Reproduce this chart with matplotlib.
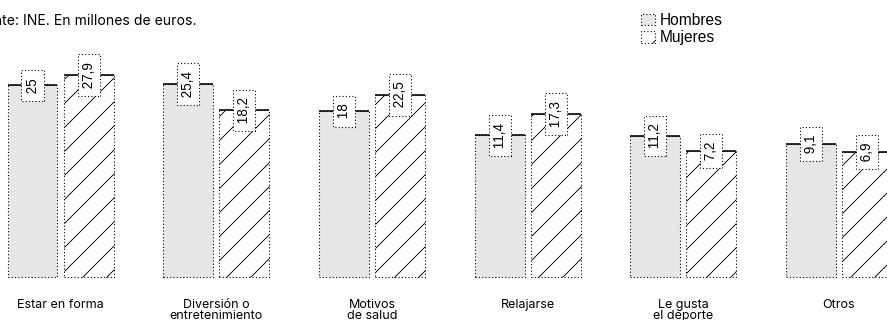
import numpy as np
import matplotlib
matplotlib.use("Agg")
import matplotlib.pyplot as plt
from matplotlib.patches import Patch

# Datos (INE, millones de euros)
categorias = ["Estar en forma", "Diversión o\nentretenimiento", "Motivos\nde salud",
              "Relajarse", "Le gusta\nel deporte", "Otros"]
hombres = [25, 25.4, 18, 11.4, 11.2, 9.1]
mujeres = [27.9, 18.2, 22.5, 17.3, 7.2, 6.9]
etiquetas_h = ["25", "25,4", "18", "11,4", "11,2", "9,1"]
etiquetas_m = ["27,9", "18,2", "22,5", "17,3", "7,2", "6,9"]

BASE = -27.2  # las barras arrancan por debajo de cero
GRIS = "#e6e6e6"
ANCHO = 0.32
DESPL = 0.18
PUNTOS = (0, (1, 2))

plt.rcParams["font.family"] = ["Liberation Sans", "DejaVu Sans"]
plt.rcParams["hatch.linewidth"] = 0.9

fig = plt.figure(figsize=(887 / 72, 320 / 72), dpi=72)
ax = fig.add_axes([0, 43 / 320, 1, 237 / 320])
x = np.arange(len(categorias))

for serie, etiquetas, sign, estilo in [
    (hombres, etiquetas_h, -1, dict(facecolor=GRIS)),
    (mujeres, etiquetas_m, 1, dict(facecolor="white", hatch="/")),
]:
    xs = x + sign * DESPL
    vals = np.array(serie)
    ax.bar(xs, vals - BASE, bottom=BASE, width=ANCHO, edgecolor="black",
           linestyle=PUNTOS, linewidth=1.1, clip_on=False, **estilo)
    ax.hlines(vals, xs - ANCHO / 2, xs + ANCHO / 2, color="black", linewidth=1.6, zorder=3)
    for xi, v, t in zip(xs, vals, etiquetas):
        ax.text(xi, v, f" {t} ", rotation=90, ha="center", va="center",
                fontsize=13.5, zorder=4,
                bbox=dict(boxstyle="square,pad=0.3", fc="white", ec="black",
                          ls=PUNTOS, lw=1.1))

ax.set_xlim(-0.389, 5.308)
ax.set_ylim(BASE, 37.4)
ax.set_xticks(x)
ax.set_xticklabels(categorias, family=["Inter", "DejaVu Sans"], fontsize=12.5,
                   linespacing=0.85, va="top")
ax.tick_params(axis="x", length=0, pad=22)
ax.set_yticks([])
for s in ax.spines.values():
    s.set_visible(False)

fig.text(-31 / 887, 1 - 25 / 320, "Fuente: INE. En millones de euros.",
         family=["Inter", "DejaVu Sans"], fontsize=14, va="baseline", ha="left")

handles = [
    Patch(facecolor=GRIS, edgecolor="black", linestyle=PUNTOS, linewidth=1.1, label="Hombres"),
    Patch(facecolor="white", edgecolor="black", linestyle=PUNTOS, linewidth=1.1, hatch="/",
          label="Mujeres"),
]
fig.legend(handles=handles, loc="upper left", bbox_to_anchor=(641 / 887, 1 - 13 / 320),
           frameon=False, fontsize=15.5, handlelength=0.9, handleheight=0.77,
           handletextpad=0.3, labelspacing=0.15, borderpad=0, borderaxespad=0)

fig.savefig("out.png", dpi=72)
